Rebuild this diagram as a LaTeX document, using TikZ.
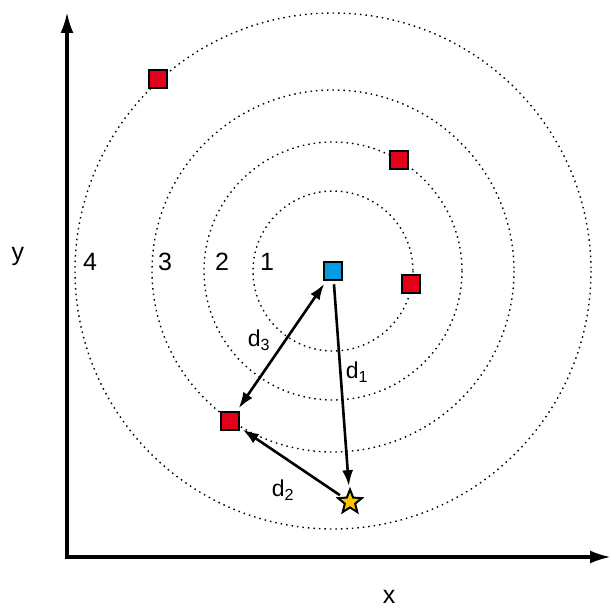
\documentclass[tikz,border=0pt]{standalone}
\usepackage{fontspec}
\setmainfont{Liberation Sans}
\usetikzlibrary{shapes.geometric, arrows.meta}
\definecolor{ptred}{HTML}{E3001B}
\definecolor{ptblue}{HTML}{009EE0}
\definecolor{ptyellow}{HTML}{FDC300}

\begin{document}
\begin{tikzpicture}[x=1pt, y=-1pt,
    pt/.style={draw, line width=2.6pt, minimum size=18pt, inner sep=0pt},
    ring/.style={dash pattern=on 1.5pt off 4pt, line width=1.4pt},
    dist/.style={line width=2.6pt, shorten >=3pt, shorten <=3pt},
    dtip/.tip={Latex[length=16pt,width=11pt]},
    atip/.tip={Latex[length=21pt,width=13pt]},
    num/.style={font=\fontsize{25}{25}\selectfont}]
    \useasboundingbox (0,0) rectangle (611,610);
    % rings around the query point
    \foreach \n/\r/\lx in {1/80/267, 2/129/222, 3/181/165, 4/258/90} {
        \draw[ring] (333,271) circle (\r);
        \node[num] (ring\n) at (\lx,262) {\n};
    }
    % axes
    \coordinate (ytop) at (67,12);
    \coordinate (xend) at (611,557);
    \draw[line width=3.2pt, atip-atip] (ytop) |- (xend);
    \node[num] (ylab) at (18,256) {y};
    \node[num] (xlab) at (389,597) {x};
    % points
    \node[pt, fill=ptblue] (q) at (333,271) {};
    \node[pt, fill=ptred] (a) at (158,79) {};
    \node[pt, fill=ptred] (b) at (399,160) {};
    \node[pt, fill=ptred] (c) at (411,284) {};
    \node[pt, fill=ptred] (e) at (230,421) {};
    \node[star, star points=5, star point ratio=2.3, draw, line width=2pt, fill=ptyellow,
          minimum size=25pt, inner sep=0pt] (s) at (350,502) {};
    % distances
    \draw[dist, -dtip] (q) -- (s);
    \draw[dist, dtip-dtip] (q) -- (e);
    \draw[dist, -dtip] (s) -- (e);
    \node[font=\fontsize{23}{23}\selectfont] (d1) at (357,372) {d\textsubscript{1}};
    \node[font=\fontsize{23}{23}\selectfont] (d2) at (283,490) {d\textsubscript{2}};
    \node[font=\fontsize{23}{23}\selectfont] (d3) at (259,340) {d\textsubscript{3}};
\end{tikzpicture}
\end{document}
